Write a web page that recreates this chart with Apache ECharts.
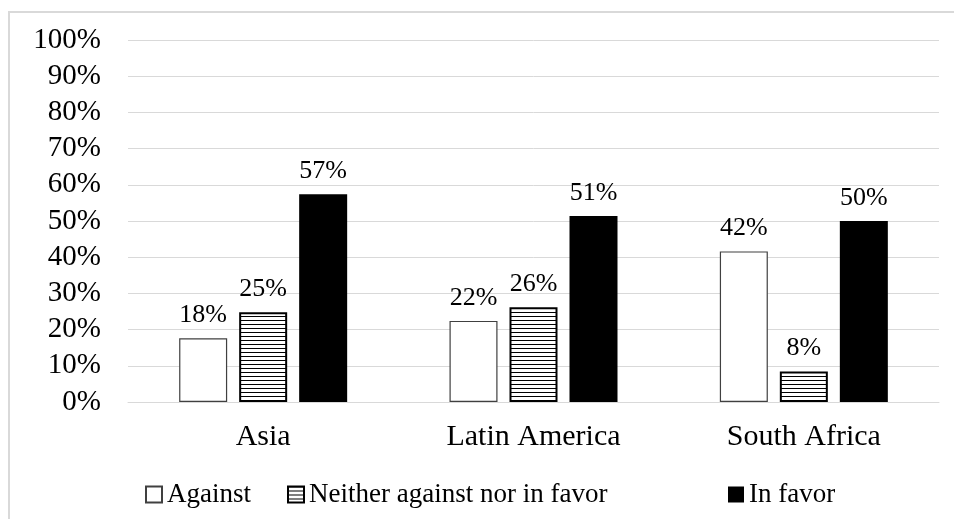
<!DOCTYPE html>
<html>
<head>
<meta charset="utf-8">
<script src="https://cdn.jsdelivr.net/npm/echarts@6/dist/echarts.min.js"></script>
<style>
html,body{margin:0;padding:0;background:#fff;}
#chart{width:954px;height:519px;}
</style>
</head>
<body>
<div id="chart"></div>
<script>
const categories = ['Asia', 'Latin America', 'South Africa'];
const seriesNames = ['Against', 'Neither against nor in favor', 'In favor'];
const against = [17.6, 22.4, 41.6];
const neither = [24.8, 26.2, 8.4];
const inFavor = [57.4, 51.4, 50.0];
const yTicks = [0, 10, 20, 30, 40, 50, 60, 70, 80, 90, 100];

const FONT = '"Liberation Serif", "Times New Roman", serif';

// horizontal stripe pattern
const pc = document.createElement('canvas');
pc.width = 8; pc.height = 4;
const pctx = pc.getContext('2d');
pctx.fillStyle = '#fff'; pctx.fillRect(0, 0, 8, 4);
pctx.fillStyle = '#000'; pctx.fillRect(0, 0, 8, 1);
const stripe = { image: pc, repeat: 'repeat' };

const chart = echarts.init(document.getElementById('chart'), null, { renderer: 'canvas' });

const labelCfg = {
  show: true, position: 'top', distance: 10,
  fontFamily: FONT, fontSize: 26, color: '#000',
  formatter: p => Math.round(p.value) + '%'
};

const legendBase = {
  top: 476, itemWidth: 16, itemHeight: 16, itemGap: 5,
  textStyle: { fontFamily: FONT, fontSize: 27, color: '#000' },
  selectedMode: false, icon: 'rect'
};

chart.setOption({
  animation: false,
  backgroundColor: '#fff',
  graphic: [{
    type: 'rect', silent: true,
    shape: { x: 9, y: 12, width: 960, height: 540 },
    style: { fill: 'none', stroke: '#d9d9d9', lineWidth: 2 }
  }],
  grid: { left: 128, right: 15, top: 40, bottom: 117 },
  legend: [
    Object.assign({}, legendBase, { left: 140, data: [seriesNames[0]] }),
    Object.assign({}, legendBase, { left: 282, data: [seriesNames[1]] }),
    Object.assign({}, legendBase, { left: 723, data: [seriesNames[2]] })
  ],
  xAxis: {
    type: 'category', data: categories,
    axisLine: { lineStyle: { color: '#d9d9d9', width: 1 } },
    axisTick: { show: false },
    axisLabel: { fontFamily: FONT, fontSize: 30, color: '#000', margin: 20 }
  },
  yAxis: {
    type: 'value', min: 0, max: 100, interval: 10,
    axisLine: { show: false }, axisTick: { show: false },
    splitLine: { lineStyle: { color: '#d9d9d9', width: 1 } },
    axisLabel: {
      fontFamily: FONT, fontSize: 29, color: '#000', margin: 27,
      formatter: v => yTicks.includes(v) ? v + '%' : ''
    }
  },
  series: [
    {
      name: seriesNames[0], type: 'bar', data: against,
      barWidth: 48, barGap: '25%',
      itemStyle: { color: '#fff', borderColor: '#404040', borderWidth: 1.2 },
      label: labelCfg
    },
    {
      name: seriesNames[1], type: 'bar', data: neither,
      barWidth: 48, barGap: '25%',
      itemStyle: { color: stripe, borderColor: '#000', borderWidth: 2 },
      label: labelCfg
    },
    {
      name: seriesNames[2], type: 'bar', data: inFavor,
      barWidth: 48, barGap: '25%',
      itemStyle: { color: '#000', borderColor: '#000', borderWidth: 0 },
      label: labelCfg
    }
  ]
});
</script>
</body>
</html>
